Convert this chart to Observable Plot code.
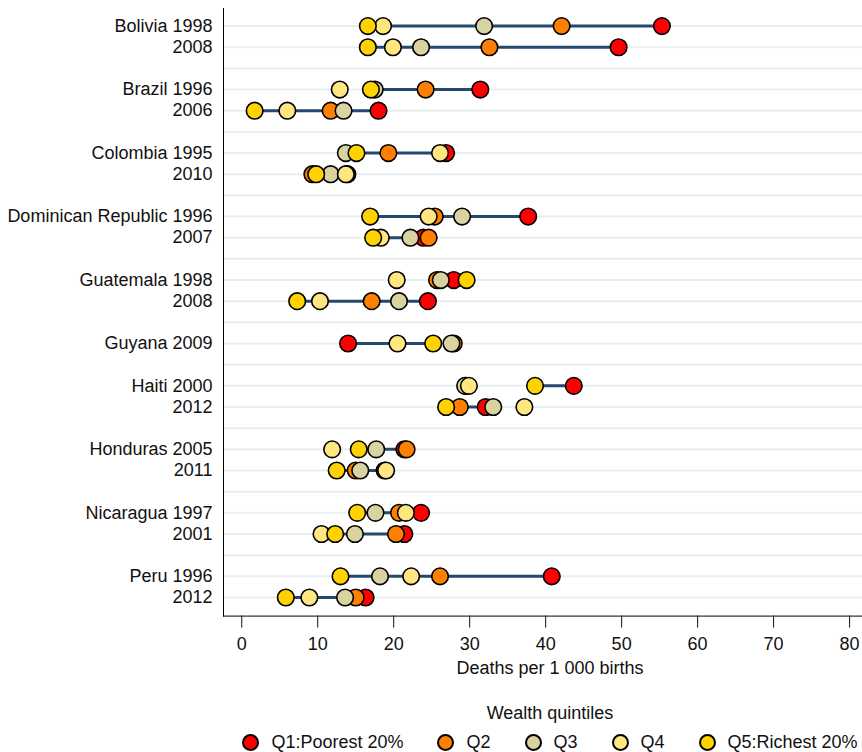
<!DOCTYPE html>
<html><head><meta charset="utf-8">
<script src="https://cdn.jsdelivr.net/npm/d3@7"></script>
<script src="https://cdn.jsdelivr.net/npm/@observablehq/plot@0.6"></script>
<style>
body{margin:0;background:#fff;font-family:"Liberation Sans",Arial,sans-serif;}
#legend{padding-left:238px;width:624px;text-align:center;color:#111;font-size:18px;white-space:nowrap;}
#legend .title{height:24px;line-height:24px;margin-top:11px;}
#legend .items{display:flex;justify-content:center;align-items:center;margin-top:4px;height:26px;}
#legend .item{display:flex;align-items:center;margin:0 17px;}
#legend .sw{width:13px;height:13px;border-radius:50%;border:2px solid #000;margin-right:12px;flex:none;}
</style></head><body><div id="chart"></div><div id="legend"></div>
<script>
const countries = ["Bolivia","Brazil","Colombia","Dominican Republic","Guatemala","Guyana","Haiti","Honduras","Nicaragua","Peru"];
const years = [[1998,2008],[1996,2006],[1995,2010],[1996,2007],[1998,2008],[2009],[2000,2012],[2005,2011],[1997,2001],[1996,2012]];
const quintiles = ["Q1:Poorest 20%","Q2","Q3","Q4","Q5:Richest 20%"];
const colors = ["#ff0000","#ff8000","#d8d3a1","#ffe680","#ffd200"];
// one value per survey row, in order of countries/years
const q1 = [55.3,49.6,31.4,18.0,26.9,13.9,37.7,23.9,27.9,24.5,14.0,43.7,32.1,21.4,18.8,23.6,21.4,40.8,16.3];
const q2 = [42.1,32.6,24.2,11.7,19.3, 9.3,25.4,24.6,25.7,17.1,27.9,29.5,28.7,21.7,15.0,20.7,20.3,26.1,15.0];
const q3 = [31.9,23.6,17.5,13.4,13.7,11.7,29.0,22.2,26.2,20.7,27.6,29.4,33.1,17.7,15.6,17.6,14.9,18.2,13.6];
const q4 = [18.6,19.9,12.9, 6.0,26.1,13.7,24.6,18.3,20.4,10.3,20.5,29.9,37.2,11.9,19.0,21.6,10.5,22.3, 8.9];
const q5 = [16.6,16.6,17.0, 1.7,15.1, 9.8,16.9,17.3,29.6, 7.3,25.2,38.6,26.9,15.4,12.5,15.2,12.3,13.0, 5.8];
const xTicks = [0,10,20,30,40,50,60,70,80];
const xTitle = "Deaths per 1 000 births";
const legendTitle = "Wealth quintiles";

// build rows (a blank row between countries)
const rows = [];
let r = 0;
countries.forEach((c, i) => {
  years[i].forEach((yr, j) => { rows.push({row: r, label: j === 0 ? c + " " + yr : String(yr)}); r++; });
  r++;
});
const nRows = r - 1;
const labelMap = new Map(rows.map(d => [d.row, d.label]));
const qs = [q1, q2, q3, q4, q5];
const points = [];
qs.forEach((arr, k) => arr.forEach((v, i) => points.push({row: rows[i].row, value: v, q: quintiles[k]})));
const segs = rows.map((d, i) => ({row: d.row, x1: q5[i], x2: q1[i]}));

const font = '"Liberation Sans",Arial,sans-serif';
const chart = Plot.plot({
  width: 862, height: 690,
  marginLeft: 223, marginRight: 0, marginTop: 8, marginBottom: 74.4,
  style: {fontSize: "18px", fontFamily: font, color: "#111", background: "#fff"},
  x: {domain: [-2.4, 81.7]},
  y: {domain: [-0.83, nRows - 1 + 0.88], reverse: true},
  color: {domain: quintiles, range: colors},
  marks: [
    Plot.ruleY(d3.range(nRows), {y: d => d, stroke: "#e8eff2", strokeWidth: 2}),
    Plot.frame({anchor: "left", stroke: "#000"}),
    Plot.frame({anchor: "bottom", stroke: "#000"}),
    Plot.ruleY(segs, {y: "row", x1: "x1", x2: "x2", stroke: "#24496e", strokeWidth: 3}),
    Plot.dot(points, {x: "value", y: "row", fill: "q", r: 8.3, stroke: "#000", strokeWidth: 1.6}),
    Plot.axisY({ticks: rows.map(d => d.row), tickFormat: i => labelMap.get(i), tickSize: 0, tickPadding: 11, label: null}),
    Plot.axisX({ticks: xTicks, tickSize: 12, tickPadding: 9, label: null}),
    Plot.text([xTitle], {frameAnchor: "bottom", dy: 58, dx: 7, fontSize: 18})
  ]
});
document.getElementById("chart").appendChild(chart);

const lg = document.getElementById("legend");
const t = document.createElement("div"); t.className = "title"; t.textContent = legendTitle; lg.appendChild(t);
const items = document.createElement("div"); items.className = "items";
quintiles.forEach((q, k) => {
  const it = document.createElement("div"); it.className = "item";
  const sw = document.createElement("span"); sw.className = "sw"; sw.style.background = colors[k];
  const tx = document.createElement("span"); tx.textContent = q;
  it.appendChild(sw); it.appendChild(tx); items.appendChild(it);
});
lg.appendChild(items);
</script></body></html>
